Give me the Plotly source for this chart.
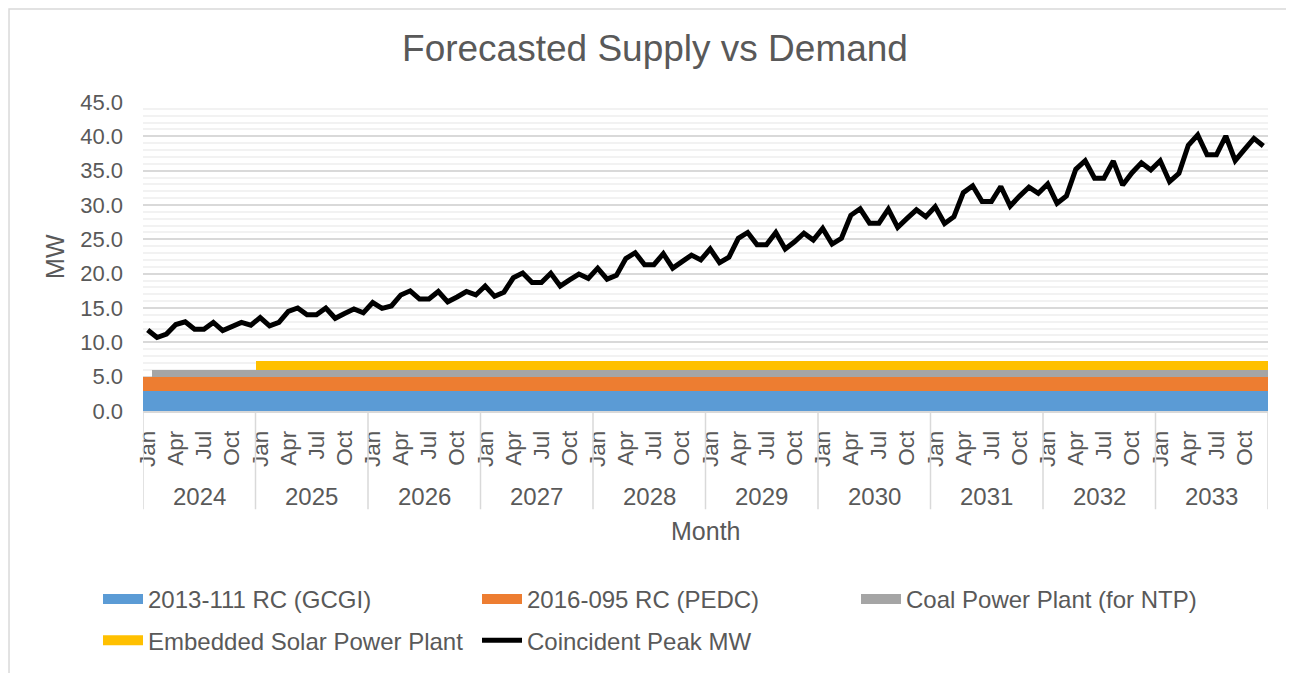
import plotly.graph_objects as go

# monthly coincident peak demand (MW)
years = [2024, 2025, 2026, 2027, 2028, 2029, 2030, 2031, 2032, 2033]
months = ['Jan', 'Feb', 'Mar', 'Apr', 'May', 'Jun', 'Jul', 'Aug', 'Sep', 'Oct', 'Nov', 'Dec']

peak_2024 = [11.8, 10.7, 11.2, 12.6, 13.0, 11.9, 11.9, 12.9, 11.7, 12.3, 12.9, 12.5]
peak_2025 = [13.6, 12.4, 12.9, 14.5, 15.0, 14.0, 14.0, 15.0, 13.5, 14.2, 14.85, 14.3]
peak_2026 = [15.8, 14.95, 15.3, 16.9, 17.5, 16.3, 16.3, 17.4, 15.9, 16.6, 17.4, 16.9]
peak_2027 = [18.2, 16.7, 17.3, 19.4, 20.1, 18.7, 18.7, 20.05, 18.2, 19.1, 19.95, 19.3]
peak_2028 = [20.8, 19.2, 19.75, 22.2, 23.05, 21.3, 21.3, 22.9, 20.8, 21.75, 22.7, 22.0]
peak_2029 = [23.6, 21.6, 22.4, 25.15, 26.0, 24.2, 24.2, 26.0, 23.6, 24.65, 25.9, 24.9]
peak_2030 = [26.6, 24.3, 25.15, 28.5, 29.45, 27.35, 27.35, 29.4, 26.75, 28.05, 29.3, 28.3]
peak_2031 = [29.75, 27.3, 28.3, 31.8, 32.8, 30.5, 30.5, 32.7, 29.85, 31.3, 32.6, 31.7]
peak_2032 = [33.05, 30.25, 31.3, 35.2, 36.45, 33.9, 33.9, 36.4, 32.9, 34.7, 36.15, 35.1]
peak_2033 = [36.45, 33.4, 34.6, 38.7, 40.2, 37.3, 37.3, 40.05, 36.45, 38.1, 39.7, 38.6]

peak = (peak_2024 + peak_2025 + peak_2026 + peak_2027 + peak_2028
        + peak_2029 + peak_2030 + peak_2031 + peak_2032 + peak_2033)

# supply blocks (MW)
gcgi = [2.9] * 120
pedc = [2.0] * 120
coal = [0.0] + [1.0] * 119
solar = [0.0] * 12 + [1.4] * 108

x = list(range(len(peak)))
txt = '#595959'
font = 'Arial, Liberation Sans, sans-serif'

fig = go.Figure()
supply = [
    ('2013-111 RC (GCGI)', gcgi, '#5B9BD5', 'legend'),
    ('2016-095 RC (PEDC)', pedc, '#ED7D31', 'legend'),
    ('Coal Power Plant (for NTP)', coal, '#A5A5A5', 'legend'),
    ('Embedded Solar Power Plant', solar, '#FFC000', 'legend2'),
]
for name, vals, col, lg in supply:
    fig.add_trace(go.Bar(x=x, y=vals, name=name, marker=dict(color=col, line=dict(width=0)),
                         showlegend=False))
fig.add_trace(go.Scatter(x=x, y=peak, mode='lines', name='Coincident Peak MW',
                         line=dict(color='black', width=5), showlegend=False))

# legend entries (wide swatches like the original), two rows
for name, vals, col, lg in supply:
    fig.add_trace(go.Scatter(x=[None], y=[None], mode='lines', name=name, legend=lg,
                             line=dict(color=col, width=10)))
fig.add_trace(go.Scatter(x=[None], y=[None], mode='lines', name='Coincident Peak MW',
                         legend='legend2', line=dict(color='black', width=5)))

# year dividers + year labels
for k, yr in enumerate(years):
    fig.add_shape(type='line', xref='x', yref='paper', x0=12 * k - 0.5, x1=12 * k - 0.5,
                  y0=0, y1=-0.318, line=dict(color='#D9D9D9', width=1.5))
    fig.add_annotation(x=12 * k + 5.5, y=-0.278, xref='x', yref='paper', text=str(yr),
                       showarrow=False, font=dict(size=24, color=txt), yanchor='middle')
fig.add_shape(type='line', xref='x', yref='paper', x0=len(x) - 0.5, x1=len(x) - 0.5,
              y0=0, y1=-0.318, line=dict(color='#D9D9D9', width=1.5))

fig.add_annotation(x=0.5, y=-0.388, xref='paper', yref='paper', text='Month',
                   showarrow=False, font=dict(size=25, color=txt), yanchor='middle')
fig.add_annotation(x=-0.093, y=0.5, xref='paper', yref='paper', text='MW', textangle=-90,
                   showarrow=False, font=dict(size=25, color=txt))

# chart border (page edge hides anything further out)
fig.add_shape(type='rect', xref='paper', yref='paper', x0=-0.1191, x1=1.03, y0=-0.9, y1=1.301,
              line=dict(color='#D9D9D9', width=1.5), layer='below')

tick_idx = [i for i in x if i % 3 == 0]
leg = dict(orientation='h', x=-0.04, xanchor='left', yanchor='top', traceorder='normal',
           entrywidth=324, font=dict(size=24, color=txt), itemwidth=40,
           bgcolor='rgba(0,0,0,0)')
fig.update_layout(
    width=1294, height=673,
    margin=dict(l=135, r=34, t=94, b=270),
    paper_bgcolor='white', plot_bgcolor='white',
    barmode='stack', bargap=0,
    font=dict(family=font, color=txt),
    title=dict(text='Forecasted Supply vs Demand', x=0.5, xref='container', xanchor='center',
               y=1 - 40 / 673, yref='container', yanchor='middle',
               font=dict(size=37, color=txt)),
    xaxis=dict(range=[-0.5, len(x) - 0.5], tickvals=tick_idx,
               ticktext=[months[i % 12] for i in tick_idx], tickangle=-90,
               tickfont=dict(size=22.5, color=txt), showgrid=False, zeroline=False,
               showline=True, linecolor='#D9D9D9', linewidth=1.5, ticks='',
               ticklabelstandoff=9),
    yaxis=dict(range=[0, 45], dtick=5, tickformat='.1f', tickfont=dict(size=22, color=txt),
               gridcolor='#D9D9D9', gridwidth=1.5, zeroline=False, showline=False, ticks='',
               ticklabelstandoff=19,
               minor=dict(dtick=1, showgrid=True, gridcolor='#F2F2F2', gridwidth=1.5)),
    legend=dict(leg, y=-0.537),
    legend2=dict(leg, y=-0.670),
    showlegend=True,
)

fig.write_html("out.html")
